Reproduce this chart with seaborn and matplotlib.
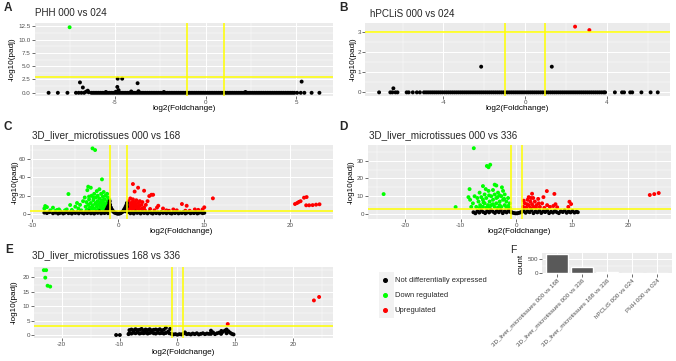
import matplotlib
matplotlib.use("Agg")
import matplotlib.pyplot as plt
from matplotlib.lines import Line2D
from matplotlib.patches import Rectangle
from matplotlib.ticker import MultipleLocator, FormatStrFormatter
import pandas as pd
import seaborn as sns

sns.set_theme(style="darkgrid", rc={"axes.facecolor": "#EBEBEB", "grid.color": "white"})
plt.rcParams["font.family"] = ["Liberation Sans", "DejaVu Sans"]
plt.rcParams["axes.unicode_minus"] = False

NS = "Not differentially expressed"
DOWN = "Down regulated"
UP = "Upregulated"
palette = {NS: "black", DOWN: "#00FF00", UP: "#FF0000"}

# (log2 fold change, -log10 padj), one list per status
# *_band lists: log2 fold change of the genes lying on the padj = 1 line (-log10 = 0)

# A: PHH 000 vs 024
phh_down = [(-7.5, 12.3)]
phh_up = []
phh_ns = [(-8.66, 0), (-8.15, 0), (-7.62, 0), (-7.15, 0), (-7.0, 0), (-6.93, 1.95), (-6.77, 1.0),
          (-6.85, 0), (-6.7, 0), (-6.6, 0.2), (-6.5, 0.4), (-6.45, 0.1), (-5.5, 0.15), (-4.95, 0.2),
          (-4.87, 1.1), (-4.85, 2.65), (-4.6, 2.65), (-4.8, 0.5), (-4.1, 0.25), (-3.75, 1.8),
          (-3.7, 0.3), (-2.3, 0.15), (2.2, 0.15), (5.05, 0), (5.3, 2.1), (5.25, 0), (5.45, 0),
          (5.85, 0), (6.28, 0)]
phh_band = [-6.3, -6.2, -6.1, -6.0, -5.9, -5.8, -5.7, -5.6, -5.5, -5.4,
            -5.3, -5.2, -5.1, -5.0, -4.9, -4.8, -4.7, -4.6, -4.5, -4.4,
            -4.3, -4.2, -4.1, -4.0, -3.9, -3.8, -3.7, -3.6, -3.5, -3.4,
            -3.3, -3.2, -3.1, -3.0, -2.9, -2.8, -2.7, -2.6, -2.5, -2.4,
            -2.3, -2.2, -2.1, -2.0, -1.9, -1.8, -1.7, -1.6, -1.5, -1.4,
            -1.3, -1.2, -1.1, -1.0, -0.9, -0.8, -0.7, -0.6, -0.5, -0.4,
            -0.3, -0.2, -0.1, 0.0, 0.1, 0.2, 0.3, 0.4, 0.5, 0.6,
            0.7, 0.8, 0.9, 1.0, 1.1, 1.2, 1.3, 1.4, 1.5, 1.6,
            1.7, 1.8, 1.9, 2.0, 2.1, 2.2, 2.3, 2.4, 2.5, 2.6,
            2.7, 2.8, 2.9, 3.0, 3.1, 3.2, 3.3, 3.4, 3.5, 3.6,
            3.7, 3.8, 3.9, 4.0, 4.1, 4.2, 4.3, 4.4, 4.5, 4.6,
            4.7, 4.8, 4.9]

# B: hPCLiS 000 vs 024
hpcl_down = []
hpcl_up = [(2.45, 3.25), (3.15, 3.08)]
hpcl_ns = [(-7.15, 0), (-6.6, 0), (-6.5, 0), (-6.45, 0.2), (-6.35, 0), (-6.25, 0), (-5.8, 0),
           (-5.7, 0), (-5.5, 0), (-5.3, 0), (-5.15, 0), (-2.15, 1.27), (1.31, 1.27), (4.4, 0),
           (4.75, 0), (4.85, 0), (5.15, 0), (5.25, 0), (5.7, 0), (6.15, 0), (6.5, 0)]
hpcl_band = [-4.95, -4.85, -4.75, -4.65, -4.55, -4.45, -4.35, -4.25, -4.15, -4.05,
             -3.95, -3.85, -3.75, -3.65, -3.55, -3.45, -3.35, -3.25, -3.15, -3.05,
             -2.95, -2.85, -2.75, -2.65, -2.55, -2.45, -2.35, -2.25, -2.15, -2.05,
             -1.95, -1.85, -1.75, -1.65, -1.55, -1.45, -1.35, -1.25, -1.15, -1.05,
             -0.95, -0.85, -0.75, -0.65, -0.55, -0.45, -0.35, -0.25, -0.15, -0.05,
             0.05, 0.15, 0.25, 0.35, 0.45, 0.55, 0.65, 0.75, 0.85, 0.95,
             1.05, 1.15, 1.25, 1.35, 1.45, 1.55, 1.65, 1.75, 1.85, 1.95,
             2.05, 2.15, 2.25, 2.35, 2.45, 2.55, 2.65, 2.75, 2.85, 2.95,
             3.05, 3.15, 3.25, 3.35, 3.45, 3.55, 3.65, 3.75, 3.85, 3.92]

# C: 3D_liver_microtissues 000 vs 168
mt168_down = [(-3.0, 71.6), (-2.7, 69.8), (-1.9, 37.8), (-3.6, 26), (-3.5, 29.8), (-3.2, 28.7),
              (-5.8, 21.8), (-8.5, 8.7), (-8.3, 7.5), (-7.6, 6.9), (-7.9, 4.0), (-6.8, 3.6),
              (-6.9, 5.0), (-5.6, 9.8), (-5.0, 8.0), (-6.0, 5.0), (-6.2, 4.0), (-4.8, 12.0),
              (-4.45, 10.0), (-4.1, 14.0), (-3.9, 18.0), (-4.65, 6.0), (-7.3, 3.5), (-5.4, 4.5),
              (-4.3, 4.0), (-8.6, 6.0), (-7.1, 4.5),
              (-3.8, 8), (-3.7, 13), (-3.6, 5), (-3.5, 10), (-3.4, 16), (-3.3, 7), (-3.2, 12),
              (-3.1, 20), (-3.0, 4), (-3.0, 9), (-2.9, 15), (-2.8, 6), (-2.8, 22), (-2.7, 11),
              (-2.6, 18), (-2.6, 4), (-2.5, 8), (-2.5, 25), (-2.4, 14), (-2.4, 20), (-2.3, 5),
              (-2.3, 10), (-2.2, 17), (-2.2, 27), (-2.1, 7), (-2.1, 12), (-2.0, 22), (-2.0, 4),
              (-1.9, 15), (-1.9, 9), (-1.8, 19), (-1.8, 6), (-1.7, 12), (-1.7, 24), (-1.6, 4),
              (-1.6, 16), (-1.5, 8), (-1.5, 20), (-1.4, 11), (-1.4, 5), (-1.3, 14), (-1.3, 22),
              (-1.2, 8), (-1.2, 18), (-1.1, 4), (-1.1, 12), (-1.05, 16), (-2.9, 3.5), (-3.3, 3.5),
              (-2.0, 14), (-2.6, 12), (-3.1, 6), (-1.6, 10), (-2.4, 3.5), (-3.4, 19), (-2.9, 18),
              (-1.3, 7), (-1.8, 13), (-3.7, 4)]
mt168_up = [(1.7, 32.7), (2.3, 28.7), (1.9, 24.5), (3.0, 25.4), (3.6, 19.6), (3.85, 21), (4.05, 21),
            (3.4, 14), (7.4, 10.9), (7.95, 9), (11.0, 17.1), (10.0, 7.3), (9.8, 5), (9.3, 4.5),
            (8.9, 5), (8.3, 3.5), (6.8, 4), (6.4, 5), (5.6, 4), (5.2, 6), (4.5, 7), (4.65, 9),
            (3.2, 10), (2.8, 13), (5.9, 3.5), (7.8, 3.6), (4.2, 4), (3.7, 5.5),
            (1.05, 5), (1.1, 10), (1.2, 3.5), (1.2, 14), (1.3, 7), (1.4, 11), (1.4, 17), (1.5, 4),
            (1.5, 9), (1.6, 13), (1.7, 6), (1.7, 16), (1.8, 3.5), (1.8, 10), (1.9, 7), (1.9, 13),
            (2.0, 4), (2.1, 9), (2.1, 15), (2.2, 6), (2.3, 12), (2.4, 4), (2.4, 8), (2.5, 14),
            (2.6, 5), (2.7, 10), (2.8, 6), (2.9, 4), (3.0, 7), (3.1, 4), (1.3, 4.5), (1.6, 8),
            (2.0, 11), (2.5, 9.5), (1.15, 7.5), (2.2, 3.5),
            (20.55, 10.9), (20.8, 12.0), (21.0, 13.2), (21.2, 14.0), (21.6, 17.8), (21.9, 18.5),
            (21.85, 9.5), (22.2, 9.5), (22.6, 9.7), (23.0, 10.2), (23.4, 10.6)]
mt168_ns = [(-8.6, 1.5), (-8.3, 1.0), (-8.0, 2.0), (-7.6, 0.8), (-7.3, 1.5), (-7.0, 0.5), (-6.8, 1.2),
            (-6.6, 1.8), (-6.4, 0.6), (-6.2, 1.4), (-6.0, 2.3), (-5.8, 0.9), (-5.6, 1.7), (-5.4, 0.5),
            (-5.2, 2.1), (-5.0, 1.1), (-4.8, 1.9), (-4.6, 0.7), (-4.4, 2.4), (-4.2, 1.3), (-4.0, 0.6),
            (-3.8, 2.0), (-3.6, 1.0), (-3.4, 2.6), (-3.2, 0.8), (-3.0, 1.6), (-2.8, 0.5), (-2.6, 2.2),
            (-2.4, 1.2), (-2.2, 2.7), (-2.0, 0.7), (-1.8, 1.8), (-1.6, 1.0), (-1.4, 2.4), (-1.2, 0.9),
            (-1.45, 3), (-1.35, 5), (-1.25, 7), (-1.15, 9), (-1.05, 12), (-1.0, 14), (-0.95, 10),
            (-0.85, 7), (-0.75, 5), (-0.65, 3.5), (-0.55, 2.5), (-0.45, 1.5), (-0.3, 1), (-0.15, 0.5),
            (0.0, 0.3), (0.15, 0.5), (0.3, 1), (0.45, 2), (0.55, 3), (0.65, 4.5), (0.75, 6),
            (0.85, 8), (0.95, 10), (1.0, 12), (-1.1, 5), (-0.9, 4), (-1.0, 7), (0.9, 5), (0.8, 3),
            (1.0, 8),
            (1.2, 2.1), (1.4, 0.8), (1.6, 1.7), (1.8, 0.5), (2.0, 2.4), (2.2, 1.2), (2.4, 1.9),
            (2.6, 0.6), (2.8, 2.2), (3.0, 1.1), (3.2, 1.8), (3.4, 0.7), (3.6, 2.5), (3.8, 1.3),
            (4.0, 0.5), (4.2, 2.0), (4.4, 1.0), (4.6, 1.7), (4.8, 0.6), (5.0, 2.3), (5.2, 1.2),
            (5.4, 1.9), (5.6, 0.8), (5.8, 2.4), (6.0, 1.1), (6.2, 0.5), (6.4, 1.8), (6.6, 1.0),
            (6.8, 2.2), (7.0, 0.7), (7.2, 1.6), (7.4, 1.1), (7.6, 2.3), (7.8, 0.6), (8.0, 1.5),
            (8.2, 2.0), (8.4, 0.8), (8.6, 1.7), (8.8, 1.0), (9.0, 2.1), (9.2, 0.6), (9.4, 1.4),
            (9.6, 1.9), (9.8, 0.9), (10.0, 1.3)]
mt168_band = []

# D: 3D_liver_microtissues 000 vs 336
mt336_down = [(-23.8, 11.2), (-10.9, 3.9), (-7.64, 37), (-5.3, 27), (-4.7, 27.7), (-5.0, 26.3),
              (-8.4, 14), (-8.6, 9.5), (-6.0, 15.7), (-5.5, 14), (-3.9, 16.5), (-3.6, 16),
              (-2.6, 15), (-4.2, 13.5), (-5.0, 13), (-6.6, 12), (-7.0, 9),
              (-6.0, 4), (-6.0, 8), (-5.7, 6), (-5.7, 11), (-5.4, 3.5), (-5.4, 9), (-5.1, 5),
              (-4.8, 7), (-4.8, 3.5), (-4.5, 10), (-4.5, 5), (-4.2, 8), (-3.9, 4), (-3.9, 11),
              (-3.6, 6), (-3.6, 9), (-3.3, 3.5), (-3.3, 12), (-3.0, 7), (-3.0, 5), (-2.7, 10),
              (-2.7, 4), (-2.4, 8), (-2.4, 13), (-2.1, 5), (-2.1, 11), (-1.8, 3.5), (-1.8, 7),
              (-1.5, 9), (-1.5, 4.5), (-1.2, 6), (-1.2, 3.5), (-6.5, 5), (-6.8, 7), (-7.2, 4),
              (-7.5, 10), (-7.8, 6), (-8.1, 4), (-8.3, 8), (-6.3, 9.5), (-4.9, 10.5), (-3.4, 9.5),
              (-2.2, 8.5), (-6.6, 3.5), (-4.2, 5.5), (-3.0, 10.5), (-5.9, 6.5)]
mt336_up = [(1.2, 4), (1.5, 6), (1.8, 3.5), (2.0, 8), (2.2, 5), (2.5, 7), (2.5, 3.5), (2.8, 11.4),
            (2.8, 5.5), (3.1, 4), (3.3, 7), (3.6, 5), (3.9, 8.5), (4.2, 4), (4.6, 6), (4.84, 9.5),
            (5.0, 3.5), (5.45, 12.9), (5.5, 5), (6.0, 4), (6.6, 4.5), (6.8, 11.3), (7.0, 5.5),
            (7.3, 3.8), (9.5, 6.9), (9.8, 5.6), (9.3, 4), (2.2, 9.5), (1.5, 3.5), (3.0, 9),
            (1.3, 7.5), (1.9, 5.5), (3.5, 3.5), (2.6, 9), (4.0, 6),
            (23.9, 10.7), (24.7, 11.2), (25.5, 11.8)]
mt336_ns = [(-7.7, 1.0), (-7.35, 0.4), (-7.0, 1.6), (-6.65, 0.8), (-6.3, 2.0), (-5.95, 1.1),
            (-5.6, 0.5), (-5.25, 1.7), (-4.9, 0.9), (-4.55, 2.2), (-4.2, 1.3), (-3.85, 0.6),
            (-3.5, 1.8), (-3.15, 1.0), (-2.8, 2.1), (-2.45, 0.5), (-2.1, 1.5), (-1.75, 0.9),
            (-1.4, 1.9), (-1.1, 1.2), (-0.8, 0.9), (-0.5, 0.6), (-0.2, 0.4), (0.1, 0.4), (0.4, 0.6),
            (0.7, 0.9), (1.0, 1.3), (1.3, 1.9), (1.65, 0.7), (2.0, 1.6), (2.35, 1.0), (2.7, 2.1),
            (3.05, 0.5), (3.4, 1.4), (3.75, 0.9), (4.1, 1.9), (4.45, 0.6), (4.8, 1.5), (5.15, 1.1),
            (5.5, 2.0), (5.85, 0.5), (6.2, 1.3), (6.55, 0.8), (6.9, 1.8), (7.25, 1.0), (7.6, 0.5),
            (7.95, 1.6), (8.3, 1.1), (8.65, 2.0), (9.0, 0.7), (9.35, 1.4), (9.7, 0.9), (10.05, 1.7),
            (10.4, 0.8), (10.75, 1.3), (11.0, 1.0)]
mt336_band = []

# E: 3D_liver_microtissues 168 vs 336
mt168_336_down = [(-23.1, 22.5), (-22.7, 22.5), (-22.85, 19.9), (-22.45, 17.1), (-22.0, 16.8)]
mt168_336_up = [(8.7, 3.8), (23.6, 12.0), (24.5, 13.2)]
mt168_336_ns = [(-10.6, 0), (-9.95, 0), (-8.46, 0.3),
                (-8.3, 0.7), (-8.3, 1.7), (-7.95, 0.5), (-7.95, 1.9), (-7.6, 0.8), (-7.6, 1.6),
                (-7.25, 0.6), (-7.25, 2.0), (-6.9, 0.9), (-6.9, 1.7), (-6.55, 0.5), (-6.55, 1.8),
                (-6.2, 0.7), (-6.2, 2.1), (-5.85, 0.6), (-5.85, 1.6), (-5.5, 0.8), (-5.5, 1.9),
                (-5.15, 0.5), (-5.15, 1.7), (-4.8, 0.7), (-4.8, 2.0), (-4.45, 0.9), (-4.45, 1.6),
                (-4.1, 0.6), (-4.1, 1.8), (-3.75, 0.5), (-3.75, 1.9), (-3.4, 0.8), (-3.4, 1.7),
                (-3.05, 0.6), (-3.05, 2.0), (-2.7, 0.7), (-2.7, 1.6), (-2.35, 0.5), (-2.35, 1.8),
                (-2.0, 2.5), (-2.0, 0.7), (-1.6, 1.2), (-1.26, 2.1),
                (-1.4, 0.6), (-1.05, 0.4), (-0.7, 0.2), (-0.35, 0.3), (0.0, 0.1), (0.35, 0.3),
                (0.7, 0.2), (1.05, 0.5), (1.3, 0.9), (1.6, 0.3), (1.95, 0.4), (2.3, 0.2), (2.65, 0.5),
                (3.0, 0.3), (3.35, 0.6), (3.7, 0.2), (4.05, 0.4), (4.4, 0.6), (4.75, 0.3), (5.1, 0.5),
                (5.45, 0.4), (5.8, 1.5), (5.8, 0.4), (6.15, 0.9), (6.5, 0.3), (6.85, 0.6), (7.2, 0.8),
                (7.55, 0.4), (7.85, 1.1), (8.2, 1.5), (8.5, 1.9), (8.8, 1.3), (9.1, 0.8), (9.4, 0.4),
                (9.7, 0.2), (8.5, 0.6), (7.6, 1.4)]
mt168_336_band = []

# F: number of DE genes per comparison
comparisons = ["3D_liver_microtissues 000 vs 168", "3D_liver_microtissues 000 vs 336",
               "3D_liver_microtissues 168 vs 336", "hPCLiS 000 vs 024", "PHH 000 vs 024"]
de_counts = [680, 210, 8, 2, 1]

W, H = 676, 361
fig = plt.figure(figsize=(W / 100, H / 100), dpi=100)


def box(x0, y0, x1, y1):
    return [x0 / W, 1 - y1 / H, (x1 - x0) / W, (y1 - y0) / H]


def fx(x):
    return x / W


def fy(y):
    return 1 - y / H


def gg_axis(ax):
    for sp in ax.spines.values():
        sp.set_visible(False)
    ax.set_axisbelow(True)
    ax.grid(which="major", color="white", lw=0.75)
    ax.grid(which="minor", color="white", lw=0.35)
    ax.tick_params(which="major", bottom=True, left=True, length=2, width=0.5, color="#333333",
                   labelsize=4.5, labelcolor="#4D4D4D", pad=1)
    ax.tick_params(which="minor", length=0)


def volcano(rect, down, up, ns, band, xlim, ylim, xstep, ystep, yfmt, ylab_x, xlab_y):
    ax = fig.add_axes(box(*rect))
    parts = []
    for pts, lab in ((down, DOWN), (up, UP), (ns, NS)):
        if pts:
            parts.append(pd.DataFrame(pts, columns=["log2fc", "nlog10padj"]).assign(status=lab))
    if band:
        parts.append(pd.DataFrame({"log2fc": band, "nlog10padj": 0.0, "status": NS}))
    df = pd.concat(parts, ignore_index=True)
    sns.scatterplot(data=df, x="log2fc", y="nlog10padj", hue="status", palette=palette,
                    s=8, linewidth=0, legend=False, ax=ax)
    # thresholds: |log2FC| = 1 and padj = 0.001
    for xv in (-1, 1):
        ax.axvline(xv, color="#FFFF00", lw=1.1, zorder=5)
    ax.axhline(3, color="#FFFF00", lw=1.1, zorder=5)
    ax.set_xlim(xlim)
    ax.set_ylim(ylim)
    ax.xaxis.set_major_locator(MultipleLocator(xstep))
    ax.xaxis.set_minor_locator(MultipleLocator(xstep / 2))
    ax.yaxis.set_major_locator(MultipleLocator(ystep))
    ax.yaxis.set_minor_locator(MultipleLocator(ystep / 2))
    ax.yaxis.set_major_formatter(FormatStrFormatter(yfmt))
    ax.xaxis.set_major_formatter(FormatStrFormatter("%g"))
    gg_axis(ax)
    ax.set_xlabel("log2(Foldchange)", fontsize=5.9, color="black")
    ax.set_ylabel("-log10(padj)", fontsize=5.9, color="black")
    ax.xaxis.set_label_coords((rect[0] + rect[2]) / 2 / W, fy(xlab_y), transform=fig.transFigure)
    ax.yaxis.set_label_coords(fx(ylab_x), fy((rect[1] + rect[3]) / 2), transform=fig.transFigure)
    ax.xaxis.label.set_va("center")
    ax.yaxis.label.set_va("center")
    return ax


volcano((35, 23, 333, 96), phh_down, phh_up, phh_ns, phh_band,
        (-9.41, 7.03), (-0.6, 13.1), 5, 2.5, "%.1f", 12, 109)
volcano((365, 23, 670, 96), hpcl_down, hpcl_up, hpcl_ns, hpcl_band,
        (-7.84, 7.1), (-0.18, 3.43), 4, 1, "%g", 353, 109)
volcano((30, 145, 333, 219), mt168_down, mt168_up, mt168_ns, mt168_band,
        (-10.27, 24.97), (-5.45, 75.3), 10, 20, "%g", 15, 231.5)
volcano((368, 145, 671, 219), mt336_down, mt336_up, mt336_ns, mt336_band,
        (-26.6, 27.7), (-2.8, 38.8), 10, 10, "%g", 351, 231.5)
volcano((34, 267, 333, 338), mt168_336_down, mt168_336_up, mt168_336_ns, mt168_336_band,
        (-24.8, 26.9), (-1.04, 23.6), 10, 5, "%g", 14, 352)

# panel letters and titles
for letter, lx, ly in (("A", 4, 8), ("B", 339, 8), ("C", 4, 127), ("D", 339, 127), ("E", 5, 250)):
    fig.text(fx(lx), fy(ly), letter, fontsize=8.5, fontweight="bold", ha="left", va="center")
for title, tx, ty in (("PHH 000 vs 024", 35, 13.5), ("hPCLiS 000 vs 024", 370, 14),
                      ("3D_liver_microtissues 000 vs 168", 32, 135.5),
                      ("3D_liver_microtissues 000 vs 336", 369, 135.5),
                      ("3D_liver_microtissues 168 vs 336", 32, 255.5)):
    fig.text(fx(tx), fy(ty), title, fontsize=7.1, ha="left", va="center")

# legend
fig.patches.append(Rectangle((fx(379), fy(318)), 15 / W, 46 / H, transform=fig.transFigure,
                             facecolor="#F2F2F2", edgecolor="none"))
handles = [Line2D([], [], marker="o", ls="", color=palette[k], markersize=2.6) for k in (NS, DOWN, UP)]
fig.legend(handles, [NS, DOWN, UP], loc="upper left", bbox_to_anchor=(fx(382), fy(277)),
           frameon=False, fontsize=5.4, handlelength=0.8, handletextpad=0.9, labelspacing=1.05,
           borderpad=0, borderaxespad=0)

# F: bar chart of DE gene counts
axf = fig.add_axes(box(542, 253, 672, 274))
sns.barplot(x=comparisons, y=de_counts, color="#595959", saturation=1, width=0.9, ax=axf)
axf.set_xlim(-0.6, 4.6)
axf.set_ylim(-50, 722)
axf.yaxis.set_major_locator(MultipleLocator(500))
axf.yaxis.set_minor_locator(MultipleLocator(250))
gg_axis(axf)
axf.set_xticks(range(len(comparisons)))
axf.set_xticklabels(comparisons, rotation=45, ha="right", rotation_mode="anchor")
axf.set_ylabel("count", fontsize=5.9, color="black")
axf.yaxis.set_label_coords(fx(521), fy(263.5), transform=fig.transFigure)
axf.yaxis.label.set_va("center")
axf.set_xlabel("")
fig.text(fx(510), fy(250), "F", fontsize=7.5, ha="left", va="center")

fig.savefig("out.png", dpi=100)
